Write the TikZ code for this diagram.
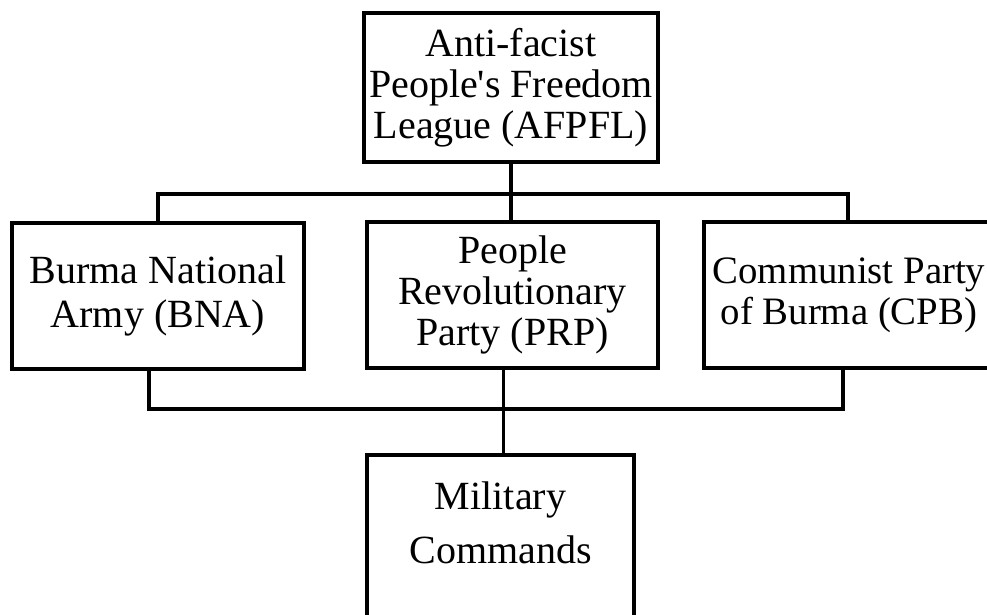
\documentclass[tikz,border=0pt]{standalone}
\usepackage{fontspec}
\setmainfont{Liberation Serif}[Ligatures=TeXOff]
\newcommand\fsz[1]{\fontsize{40}{#1}\selectfont}
\begin{document}
\begin{tikzpicture}[x=1pt,y=-1pt,
  box/.style={draw=black, line width=4pt, inner sep=0pt, align=center, text=black},
  upconn/.style={draw=black, line width=3.8pt, line join=miter},
  lowconn/.style={draw=black, line width=3.2pt, line join=miter}]
\useasboundingbox (0,0) rectangle (987,615);
\clip (0,0) rectangle (987,615);
\fill[white] (0,0) rectangle (987,615);

\node[box, minimum width=294pt, minimum height=149pt, font=\fsz{41}] (afpfl) at (511,87.5)
  {Anti-facist\\People's Freedom\\League (AFPFL)};
\node[box, minimum width=292pt, minimum height=146pt, font=\fsz{44}] (bna) at (158,296)
  {Burma National\\Army (BNA)};
\node[box, minimum width=291pt, minimum height=146pt, font=\fsz{41}] (prp) at (512.5,295)
  {People\\Revolutionary\\Party (PRP)};
\node[box, minimum width=291pt, minimum height=146pt, font=\fontsize{38.8}{41}\selectfont] (cpb) at (849,295)
  {Communist Party\\of Burma (CPB)};
\node[box, minimum width=267pt, minimum height=190pt, anchor=north] (mc) at (500.5,453) {};
\node[align=center, inner sep=0pt, font=\fsz{54}] (mct) at (500.5,522.5) {Military\\Commands};

\coordinate (upbus) at (0,194);
\coordinate (lowbus) at (0,409);
\draw[upconn] (afpfl.south) -- (afpfl.south |- prp.north);
\draw[upconn] (bna.north) -- (bna.north |- upbus) -- ([xshift=-1pt]cpb.north |- upbus) -- ([xshift=-1pt]cpb.north);
\draw[lowconn] ([xshift=-9pt]bna.south) -- ([xshift=-9pt]bna.south |- lowbus)
  -- ([xshift=-6pt]cpb.south |- lowbus) -- ([xshift=-6pt]cpb.south);
\draw[lowconn] ([xshift=-9pt]prp.south) -- ([xshift=-9pt]prp.south |- mc.north);
\end{tikzpicture}
\end{document}
